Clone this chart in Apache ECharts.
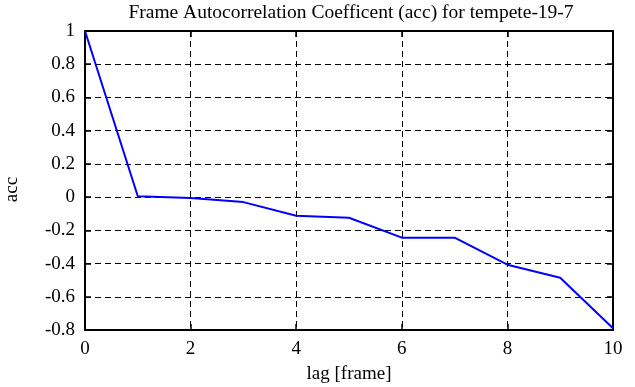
<!DOCTYPE html>
<html>
<head>
<meta charset="utf-8">
<script src="https://cdn.jsdelivr.net/npm/echarts@6/dist/echarts.min.js"></script>
<style>html,body{margin:0;padding:0;background:#fff}#c{width:635px;height:387px}</style>
</head>
<body>
<div id="c"></div>
<script>
const lags = [0, 1, 2, 3, 4, 5, 6, 7, 8, 9, 10];
const acc = [1, 0.005, -0.006, -0.03, -0.112, -0.124, -0.244, -0.244, -0.407, -0.485, -0.79];
const titleText = 'Frame Autocorrelation Coefficent (acc) for tempete-19-7';
const xName = 'lag [frame]';
const yName = 'acc';

const font = 'Liberation Serif';
const chart = echarts.init(document.getElementById('c'));
const common = {
  axisLine: {show: true, onZero: false, lineStyle: {color: '#000', width: 2}},
  axisTick: {show: true, inside: true, length: 6, lineStyle: {color: '#000', width: 1.5}},
};
chart.setOption({
  animation: false,
  title: {text: titleText, left: 346, top: -2, textAlign: 'center',
    textStyle: {fontFamily: font, fontSize: 19.5, fontWeight: 'normal', color: '#000'}},
  grid: {left: 85, right: 22, top: 31, bottom: 57, containLabel: false, outerBoundsMode: 'none'},
  xAxis: [{
    type: 'value', min: 0, max: 10, interval: 2, position: 'bottom',
    name: xName, nameLocation: 'middle', nameGap: 35,
    nameTextStyle: {fontFamily: font, fontSize: 19, color: '#000'},
    ...common,
    axisLabel: {fontFamily: font, fontSize: 19, color: '#000', margin: 10},
    splitLine: {show: true, lineStyle: {color: '#000', type: [6, 4], width: 1}}
  }, {
    type: 'value', min: 0, max: 10, interval: 2, position: 'top',
    ...common, axisLabel: {show: false}, splitLine: {show: false}
  }],
  yAxis: [{
    type: 'value', min: -0.8, max: 1, interval: 0.2, position: 'left',
    name: yName, nameLocation: 'middle', nameGap: 63, nameRotate: 90,
    nameTextStyle: {fontFamily: font, fontSize: 19, color: '#000', padding: [0, 18, 0, 0]},
    ...common,
    axisLabel: {fontFamily: font, fontSize: 19, color: '#000', margin: 10,
      formatter: v => String(Math.round(v * 10) / 10)},
    splitLine: {show: true, lineStyle: {color: '#000', type: [6, 4], width: 1}}
  }, {
    type: 'value', min: -0.8, max: 1, interval: 0.2, position: 'right',
    ...common, axisLabel: {show: false}, splitLine: {show: false}
  }],
  series: [{
    type: 'line', data: lags.map((x, i) => [x, acc[i]]),
    showSymbol: false, symbol: 'none',
    lineStyle: {color: '#0000ff', width: 2},
    clip: false
  }]
});
</script>
</body>
</html>
